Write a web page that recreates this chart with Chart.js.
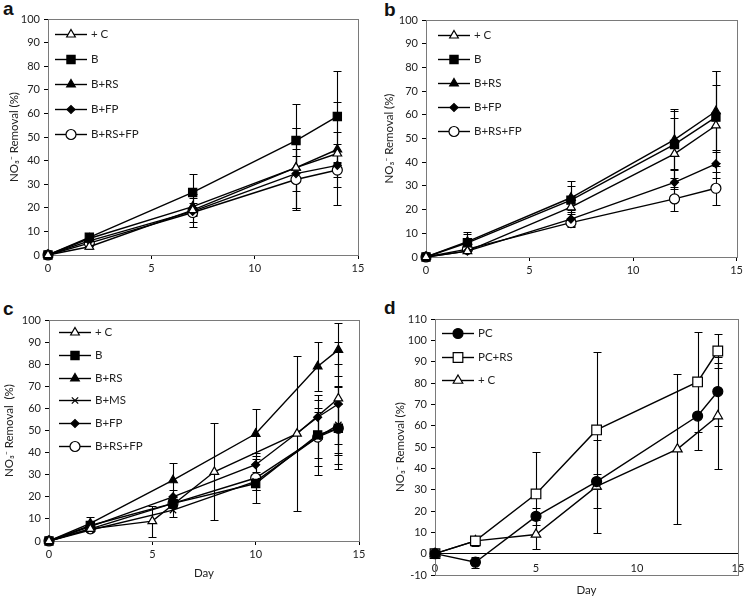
<!DOCTYPE html>
<html>
<head>
<meta charset="utf-8">
<script src="https://cdn.jsdelivr.net/npm/chart.js@4.4.1/dist/chart.umd.min.js"></script>
<style>
  body { margin: 0; background: #fff; width: 746px; height: 597px; position: relative; overflow: hidden; }
  .panel { position: absolute; }
  .tag { position: absolute; font: bold 19px 'Liberation Sans', Arial, sans-serif; color: #111; line-height: 1; }
</style>
</head>
<body>
<div class="tag" style="left:3px;top:-1px">a</div>
<div class="tag" style="left:384px;top:0px">b</div>
<div class="tag" style="left:3px;top:299px">c</div>
<div class="tag" style="left:384px;top:298px">d</div>
<div class="panel" style="left:0;top:0"><canvas id="chartA" width="373" height="290"></canvas></div>
<div class="panel" style="left:373px;top:0"><canvas id="chartB" width="373" height="290"></canvas></div>
<div class="panel" style="left:0;top:290px"><canvas id="chartC" width="373" height="307"></canvas></div>
<div class="panel" style="left:373px;top:290px"><canvas id="chartD" width="373" height="307"></canvas></div>
<script>
// panel a
const daysA = [0, 2, 7, 12, 14];
const aCtrl = [0, 3.5, 19, 37, 43];        const aCtrlErr = [0, 1, 7, 17, 22];
const aB = [0, 7.5, 26.5, 48.5, 58.7];     const aBErr = [0, 2, 7.7, 15.5, 19.3];
const aBRS = [0, 7, 20.5, 37, 44.7];       const aBRSErr = [0, 1.5, 3.5, 17, 7.3];
const aBFP = [0, 6, 18.5, 34.5, 38];       const aBFPErr = [0, 1, 2, 7.5, 9];
const aBRSFP = [0, 5, 18, 32, 36];         const aBRSFPErr = [0, 1, 4, 13, 3];

// panel b
const daysB = [0, 2, 7, 12, 14];
const bCtrl = [0, 2.5, 21, 43.5, 55.5];    const bCtrlErr = [0, 1, 3, 15, 17];
const bB = [0, 6, 24, 47.5, 59];           const bBErr = [0, 4.5, 8, 14, 19.5];
const bBRS = [0, 6.5, 25, 49.5, 61.5];     const bBRSErr = [0, 3, 5, 13, 17];
const bBFP = [0, 2.5, 16, 31.5, 39.3];     const bBFPErr = [0, 1, 3, 5.5, 6];
const bBRSFP = [0, 3.3, 14.5, 24.5, 29];   const bBRSFPErr = [0, 1, 2, 5, 7];

// panel c
const daysC = [0, 2, 6, 10, 13, 14];
const daysCtrl = [0, 2, 5, 8, 12, 14];
const cCtrl = [0, 5.5, 9, 31.3, 48.6, 64.5];   const cCtrlErr = [0, 1, 7, 22, 35, 25.5];
const cB = [0, 7, 17, 26, 48, 51];             const cBErr = [0, 1, 2, 3, 10.5, 11];
const cBRS = [0, 8, 27.5, 48.5, 79, 86.5];     const cBRSErr = [0, 3, 7.7, 11.3, 11, 12];
const cBMS = [0, 5, 14, 27, 47, 52.5];         const cBMSErr = [0, 1, 3, 4, 13, 17.5];
const cBFP = [0, 6.5, 20, 34.5, 56, 62];       const cBFPErr = [0, 1, 3, 4, 10, 18];
const cBRSFP = [0, 5.5, 17, 28.5, 47, 51];     const cBRSFPErr = [0, 1, 2, 11.5, 17, 18.5];

// panel d
const daysD = [0, 2, 5, 8, 13, 14];
const dPC = [0, -4, 17.5, 33.8, 64.5, 76];     const dPCErr = [0, 2.5, 4, 3.7, 16, 16];
const dPCRS = [0, 6, 28, 58, 80.5, 95];        const dPCRSErr = [0, 2.5, 19.5, 36.5, 23.5, 8];
const dCtrl = [0, 6, 9, 31.5, 49, 64.5];       const dCtrlErr = [0, 1.5, 7, 22, 35, 25];

const FONT = "Lato, 'DejaVu Sans', sans-serif";
const Y_TITLE = 'NO\u2083\u207B Removal (%)';

// marker looks
const mk = {
  ctrl:  { pointStyle: 'triangle', radius: 5,   fill: '#fff' },
  b:     { pointStyle: 'rect',     radius: 5.8, fill: '#000' },
  brs:   { pointStyle: 'triangle', radius: 5,   fill: '#000' },
  bms:   { pointStyle: 'crossRot', radius: 4.5, fill: '#000' },
  bfp:   { pointStyle: 'rectRot',  radius: 4,   fill: '#000' },
  brsfp: { pointStyle: 'circle',   radius: 5,   fill: '#fff' },
  pc:    { pointStyle: 'circle',   radius: 5,   fill: '#000' },
  pcrs:  { pointStyle: 'rect',     radius: 6.8, fill: '#fff' },
  ctrlD: { pointStyle: 'triangle', radius: 5.5, fill: '#fff' }
};

function series(label, xs, ys, errs, look) {
  return {
    label: label,
    data: xs.map((x, i) => ({ x: x, y: ys[i] })),
    err: errs,
    borderColor: '#000',
    borderWidth: 1.4,
    pointStyle: look.pointStyle,
    pointRadius: look.radius,
    pointHoverRadius: look.radius,
    pointBackgroundColor: look.fill,
    pointBorderColor: '#000',
    pointBorderWidth: 1.2,
    tension: 0,
    clip: false
  };
}

const errorBars = {
  id: 'errorBars',
  beforeDatasetsDraw(chart) {
    const ctx = chart.ctx, xs = chart.scales.x, ys = chart.scales.y;
    ctx.save();
    ctx.strokeStyle = '#000';
    ctx.lineWidth = 1.1;
    chart.data.datasets.forEach(ds => {
      (ds.err || []).forEach((e, i) => {
        if (!e) return;
        const p = ds.data[i];
        const x = Math.round(xs.getPixelForValue(p.x)) + 0.5;
        const y1 = Math.round(ys.getPixelForValue(p.y + e)) + 0.5;
        const y2 = Math.round(ys.getPixelForValue(p.y - e)) + 0.5;
        ctx.beginPath();
        ctx.moveTo(x, y1); ctx.lineTo(x, y2);
        ctx.moveTo(x - 4, y1); ctx.lineTo(x + 4, y1);
        ctx.moveTo(x - 4, y2); ctx.lineTo(x + 4, y2);
        ctx.stroke();
      });
    });
    ctx.restore();
  }
};

const frame = {
  id: 'frame',
  beforeDatasetsDraw(chart) {
    const a = chart.chartArea, ctx = chart.ctx;
    ctx.save();
    ctx.strokeStyle = '#7a7a7a';
    ctx.lineWidth = 1;
    ctx.strokeRect(Math.round(a.left) + 0.5, Math.round(a.top) + 0.5,
      Math.round(a.right - a.left), Math.round(a.bottom - a.top));
    ctx.restore();
  }
};

const boxLegend = {
  id: 'boxLegend',
  afterDraw(chart, args, opts) {
    const ctx = chart.ctx, a = chart.chartArea;
    ctx.save();
    chart.data.datasets.forEach((ds, i) => {
      const x0 = a.left + opts.dx, y = Math.round(a.top + opts.dy + i * opts.gap) + 0.5;
      ctx.strokeStyle = '#000';
      ctx.lineWidth = 1.4;
      ctx.beginPath();
      ctx.moveTo(x0, y); ctx.lineTo(x0 + 32, y);
      ctx.stroke();
      ctx.fillStyle = ds.pointBackgroundColor;
      ctx.lineWidth = 1.2;
      Chart.helpers.drawPoint(ctx, {
        pointStyle: ds.pointStyle, radius: ds.pointRadius, rotation: 0, borderWidth: 1.2
      }, x0 + 16, y);
      ctx.fillStyle = '#222';
      ctx.font = '11.5px ' + FONT;
      ctx.textBaseline = 'middle';
      ctx.fillText(ds.label, x0 + 36, y);
    });
    ctx.restore();
  }
};

function makePanel(id, p) {
  const W = 373, H = p.H;
  const tickFont = { family: FONT, size: 11 };
  const scales = {
    x: {
      type: 'linear', min: 0, max: 15, position: 'bottom',
      ticks: { stepSize: 5, color: '#222', font: tickFont, padding: p.zeroAxis ? 0 : 3,
               mirror: !!p.zeroAxis, maxRotation: 0, autoSkip: false },
      grid: { display: true, drawOnChartArea: false, drawTicks: !p.zeroAxis, tickLength: 4, color: '#000' },
      border: { display: true, color: p.zeroAxis ? '#7a7a7a' : '#444', width: 1 },
      title: { display: !!p.xTitle, text: p.xTitle, color: '#222',
               font: { family: FONT, size: 11.5 }, padding: { top: 0, bottom: p.zeroAxis ? 0 : 1 } },
      afterFit(s) { s.height = p.xh; }
    },
    y: {
      min: p.yMin, max: p.yMax,
      ticks: { stepSize: 10, color: '#222', font: tickFont, padding: 4 },
      grid: {
        display: true,
        drawOnChartArea: !!p.zeroAxis,
        tickLength: 4,
        tickColor: '#000',
        color: c => (p.zeroAxis && c.tick && c.tick.value === 0) ? '#000' : (p.zeroAxis ? 'rgba(0,0,0,0)' : '#000')
      },
      border: { display: true, color: '#444', width: 1 },
      title: { display: true, text: p.yTitle, color: '#222',
               font: { family: FONT, size: 11.5 }, padding: { top: p.yTitlePad, bottom: 0 } },
      afterFit(s) { s.width = p.box.l; }
    }
  };
  return new Chart(document.getElementById(id), {
    type: 'line',
    data: { datasets: p.datasets },
    options: {
      responsive: false,
      animation: false,
      layout: { padding: { left: 0, top: p.box.t, right: W - p.box.r, bottom: H - p.box.b - p.xh } },
      scales: scales,
      plugins: {
        legend: { display: false },
        tooltip: { enabled: false },
        boxLegend: p.legend
      }
    },
    plugins: [frame, errorBars, boxLegend]
  });
}

makePanel('chartA', {
  H: 290, box: { l: 48, t: 19, r: 358, b: 255 }, xh: 20,
  yMin: 0, yMax: 100, yTitle: Y_TITLE, yTitlePad: 7,
  legend: { dx: 7, dy: 15, gap: 25 },
  datasets: [
    series('+ C', daysA, aCtrl, aCtrlErr, mk.ctrl),
    series('B', daysA, aB, aBErr, mk.b),
    series('B+RS', daysA, aBRS, aBRSErr, mk.brs),
    series('B+FP', daysA, aBFP, aBFPErr, mk.bfp),
    series('B+RS+FP', daysA, aBRSFP, aBRSFPErr, mk.brsfp)
  ]
});

makePanel('chartB', {
  H: 290, box: { l: 53, t: 20, r: 366, b: 257 }, xh: 20,
  yMin: 0, yMax: 100, yTitle: Y_TITLE, yTitlePad: 9,
  legend: { dx: 12, dy: 15, gap: 24 },
  datasets: [
    series('+ C', daysB, bCtrl, bCtrlErr, mk.ctrl),
    series('B', daysB, bB, bBErr, mk.b),
    series('B+RS', daysB, bBRS, bBRSErr, mk.brs),
    series('B+FP', daysB, bBFP, bBFPErr, mk.bfp),
    series('B+RS+FP', daysB, bBRSFP, bBRSFPErr, mk.brsfp)
  ]
});

makePanel('chartC', {
  H: 307, box: { l: 49, t: 30, r: 359, b: 251 }, xh: 40, xTitle: 'Day',
  yMin: 0, yMax: 100, yTitle: 'NO\u2083\u207B Removal  (%)', yTitlePad: 2,
  legend: { dx: 10, dy: 12, gap: 22.8 },
  datasets: [
    series('+ C', daysCtrl, cCtrl, cCtrlErr, mk.ctrl),
    series('B', daysC, cB, cBErr, mk.b),
    series('B+RS', daysC, cBRS, cBRSErr, mk.brs),
    series('B+MS', daysC, cBMS, cBMSErr, mk.bms),
    series('B+FP', daysC, cBFP, cBFPErr, mk.bfp),
    series('B+RS+FP', daysC, cBRSFP, cBRSFPErr, mk.brsfp)
  ]
});

makePanel('chartD', {
  H: 307, box: { l: 62, t: 29, r: 366, b: 285 }, xh: 22, xTitle: 'Day', zeroAxis: true,
  yMin: -10, yMax: 110, yTitle: Y_TITLE, yTitlePad: 20,
  legend: { dx: 7, dy: 14, gap: 23.5 },
  datasets: [
    series('PC', daysD, dPC, dPCErr, mk.pc),
    series('PC+RS', daysD, dPCRS, dPCRSErr, mk.pcrs),
    series('+ C', daysCtrl, dCtrl, dCtrlErr, mk.ctrlD)
  ]
});
</script>
</body>
</html>
